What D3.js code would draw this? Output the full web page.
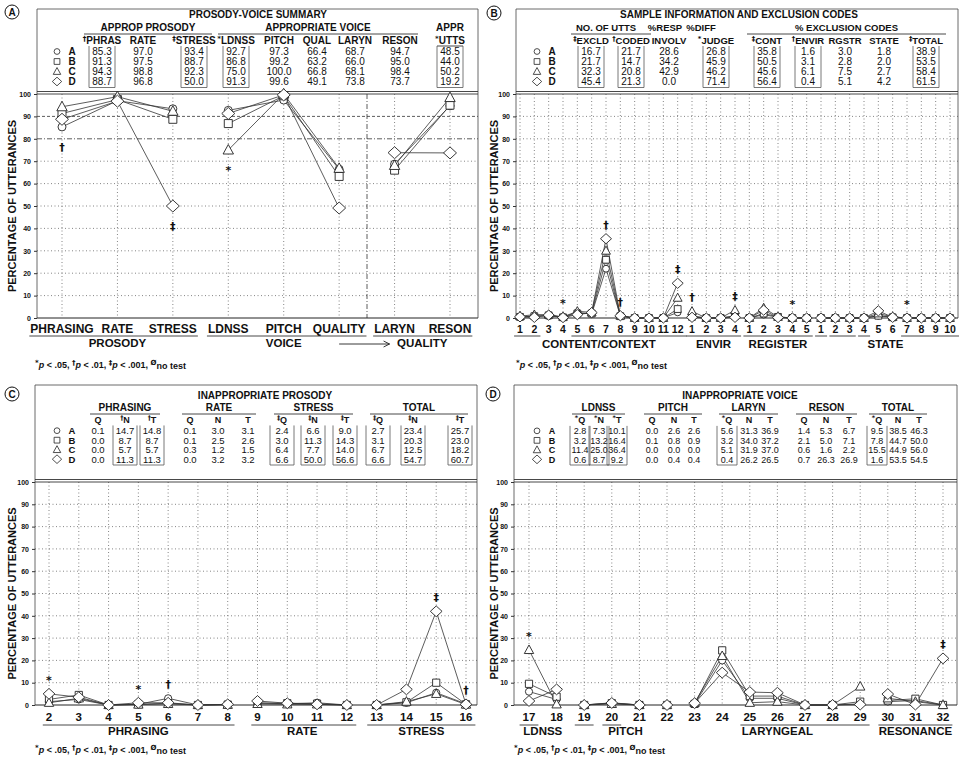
<!DOCTYPE html>
<html>
<head>
<meta charset="utf-8">
<title>Prosody-voice profiles</title>
<script src="https://d3js.org/d3.v7.min.js"></script>
<style>
  body { margin: 0; background: #fff; }
  text { font-family: "Liberation Sans", Arial, Helvetica, sans-serif; fill: #111; }
  .mark { font-family: "DejaVu Sans", "Liberation Sans", sans-serif; }
</style>
</head>
<body>
<svg id="chart"></svg>
<script>
// speaker groups, drawn as circle / square / triangle / diamond
var groups = ["A", "B", "C", "D"];

// ---------- Panel A: prosody-voice summary ----------
var summaryCats = ["PHRASING", "RATE", "STRESS", "LDNSS", "PITCH", "QUALITY", "LARYN", "RESON"];
var summaryRuns = [[0, 2], [3, 5], [6, 7]];
var summaryAxisGroups = [{name: "PROSODY", from: 0, to: 2}, {name: "VOICE", from: 3, to: 5}, {name: "QUALITY", from: 6, to: 7}];
var summaryUnderlines = [[0, 2], [3, 5], [6, 7]];
var summaryA = [85.3, 97.0, 93.4, 92.7, 97.3, 66.4, 68.7, 94.7];
var summaryB = [91.3, 97.5, 88.7, 86.8, 99.2, 63.2, 66.0, 95.0];
var summaryC = [94.3, 98.8, 92.3, 75.0, 100.0, 66.8, 68.1, 98.4];
var summaryD = [88.7, 96.8, 50.0, 91.3, 99.6, 49.1, 73.8, 73.7];
var summarySig = [{i: 0, mark: "†"}, {i: 2, mark: "‡"}, {i: 3, mark: "*"}];
var apprUtts = [48.5, 44.0, 50.2, 19.2];
var summaryHeads = ["PHRAS", "RATE", "STRESS", "LDNSS", "PITCH", "QUAL", "LARYN", "RESON", "UTTS"];
var summaryHeadMarks = ["†", "", "‡", "*", "", "", "", "", "*"];
var summaryBoxed = [0, 2, 3, 8];
var summaryHeadGroups = [{name: "APPROP PROSODY", from: 0, to: 2, line: true},
                         {name: "APPROPRIATE VOICE", from: 3, to: 7, line: true},
                         {name: "APPR", from: 8, to: 8}];

// ---------- Panel B: sample information and exclusion codes ----------
var codeCats = ["1", "2", "3", "4", "5", "6", "7", "8", "9", "10", "11", "12",
                "1", "2", "3", "4",
                "1", "2", "3", "4", "5",
                "1", "2", "3", "4", "5", "6", "7", "8", "9", "10"];
var codeRuns = [[0, 11], [12, 15], [16, 20], [21, 30]];
var codeAxisGroups = [{name: "CONTENT/CONTEXT", from: 0, to: 11}, {name: "ENVIR", from: 12, to: 15},
                      {name: "REGISTER", from: 16, to: 20}, {name: "STATE", from: 21, to: 30}];
var codeUnderlines = [[0, 1], [4, 11], [12, 15], [16, 20], [21, 21], [22, 23], [24, 24], [27, 30]];
var codeA = [0.3, 1.0, 0.8, 0.5, 2.5, 1.8, 22.0, 1.0, 0, 0, 0, 2.5,   1.0, 0, 0, 1.0,   0, 1.5, 0.3, 0, 0,   0, 0, 0, 0, 1.0, 0.5, 0, 0, 0, 0];
var codeB = [0.5, 0.8, 1.2, 0.3, 2.0, 2.0, 26.0, 0.8, 0, 0, 0, 4.0,   0.5, 0, 0, 0.8,   0, 2.0, 0.5, 0, 0,   0, 0, 0, 0, 1.0, 0.3, 0, 0, 0, 0];
var codeC = [0.8, 1.5, 1.5, 0.5, 3.0, 2.5, 30.0, 1.0, 0, 0, 0, 9.0,   3.0, 0, 0, 3.5,   0, 4.5, 0.5, 0, 0,   0, 0, 0, 0, 2.0, 0.5, 0, 0, 0, 0];
var codeD = [0.5, 0.3, 1.3, 0.2, 1.5, 2.4, 35.4, 1.0, 0, 0, 0, 15.5,  0.3, 0, 0, 0.3,   0, 3.5, 0.2, 0, 0,   0, 0, 0, 0, 3.2, 0.3, 0, 0, 0, 0];
var codeSig = [{i: 3, mark: "*"}, {i: 6, mark: "†"}, {i: 7, mark: "†"}, {i: 11, mark: "‡"},
               {i: 12, mark: "†"}, {i: 15, mark: "‡"}, {i: 19, mark: "*"}, {i: 27, mark: "*"}];
var sampleHeads = ["EXCLD", "CODED", "INVOLV", "JUDGE", "CONT", "ENVIR", "RGSTR", "STATE", "TOTAL"];
var sampleHeadMarks = ["‡", "†", "", "*", "‡", "†", "", "", "‡"];
var sampleRows = [[16.7, 21.7, 28.6, 26.8, 35.8, 1.6, 3.0, 1.8, 38.9],
                  [21.7, 14.7, 34.2, 45.9, 50.5, 3.1, 2.8, 2.0, 53.5],
                  [32.3, 20.8, 42.9, 46.2, 45.6, 6.1, 7.5, 2.7, 58.4],
                  [45.4, 21.3, 0.0, 71.4, 56.4, 0.4, 5.1, 4.2, 61.5]];
var sampleBoxed = [0, 1, 3, 4, 5, 8];
var sampleHeadGroups = [{name: "NO. OF UTTS", from: 0, to: 1, line: true}, {name: "%RESP", from: 2, to: 2},
                        {name: "%DIFF", from: 3, to: 3}, {name: "% EXCLUSION CODES", from: 4, to: 8, line: true}];

// ---------- Panel C: inappropriate prosody ----------
var prosodyCats = ["2", "3", "4", "5", "6", "7", "8", "9", "10", "11", "12", "13", "14", "15", "16"];
var prosodyRuns = [[0, 6], [7, 10], [11, 14]];
var prosodyAxisGroups = [{name: "PHRASING", from: 0, to: 6}, {name: "RATE", from: 7, to: 10}, {name: "STRESS", from: 11, to: 14}];
var prosodyUnderlines = [[0, 6], [7, 10], [11, 14]];
var prosodyA = [1.5, 2.5, 0, 0.3, 3.0, 0, 0.2, 1.0, 0.5, 1.0, 0, 0, 1.0, 5.5, 0.5];
var prosodyB = [2.5, 4.5, 0, 0.3, 0.8, 0, 0.2, 0.8, 0.8, 0.6, 0, 0, 1.2, 10.0, 0.3];
var prosodyC = [1.0, 3.0, 0, 0.2, 0.5, 0, 0.1, 0.5, 0.3, 0.3, 0, 0, 1.5, 5.0, 0.2];
var prosodyD = [5.0, 3.5, 0, 1.0, 1.0, 0, 0.3, 1.8, 0.8, 0.3, 0, 0, 7.0, 42.0, 0.3];
var prosodySig = [{i: 0, mark: "*"}, {i: 3, mark: "*"}, {i: 4, mark: "†"}, {i: 13, mark: "‡"}, {i: 14, mark: "†"}];
var qntHeads = ["Q", "N", "T"];
var prosodyHeadMarks = ["", "†", "†", "", "", "", "‡", "‡", "‡", "‡", "‡", "‡"];
var prosodyRows = [[0.1, 14.7, 14.8, 0.1, 3.0, 3.1, 2.4, 6.6, 9.0, 2.7, 23.4, 25.7],
                   [0.0, 8.7, 8.7, 0.1, 2.5, 2.6, 3.0, 11.3, 14.3, 3.1, 20.3, 23.0],
                   [0.0, 5.7, 5.7, 0.3, 1.2, 1.5, 6.4, 7.7, 14.0, 6.7, 12.5, 18.2],
                   [0.0, 11.3, 11.3, 0.0, 3.2, 3.2, 6.6, 50.0, 56.6, 6.6, 54.7, 60.7]];
var prosodyBoxed = [1, 2, 6, 7, 8, 9, 10, 11];
var prosodyHeadGroups = [{name: "PHRASING", from: 0, to: 2, line: true}, {name: "RATE", from: 3, to: 5, line: true},
                         {name: "STRESS", from: 6, to: 8, line: true}, {name: "TOTAL", from: 9, to: 11, line: true}];

// ---------- Panel D: inappropriate voice ----------
var voiceCats = ["17", "18", "19", "20", "21", "22", "23", "24", "25", "26", "27", "28", "29", "30", "31", "32"];
var voiceRuns = [[0, 1], [2, 4], [5, 5], [6, 12], [13, 15]];
var voiceAxisGroups = [{name: "LDNSS", from: 0, to: 1}, {name: "PITCH", from: 2, to: 5},
                       {name: "LARYNGEAL", from: 6, to: 12}, {name: "RESONANCE", from: 13, to: 15}];
var voiceUnderlines = [[0, 0], [2, 2], [3, 3], [8, 12], [13, 15]];
var voiceA = [6.0, 2.5, 0, 1.0, 0, 0, 0.5, 20.0, 3.0, 3.0, 0, 0, 0.5, 1.5, 2.0, 0];
var voiceB = [9.5, 3.7, 0, 0.8, 0, 0, 0.5, 24.5, 4.0, 4.0, 0, 0, 1.5, 2.0, 2.8, 0];
var voiceC = [24.7, 0.3, 0, 0.5, 0, 0, 1.0, 22.0, 1.0, 1.5, 0, 0, 8.3, 3.0, 1.5, 0];
var voiceD = [1.8, 7.0, 0, 0.9, 0, 0, 0.8, 14.5, 5.8, 5.5, 0, 0, 0.2, 4.9, 0.2, 20.9];
var voiceSig = [{i: 0, mark: "*"}, {i: 15, mark: "‡"}];
var voiceHeadMarks = ["*", "*", "*", "", "", "", "*", "", "", "", "", "", "*", "", ""];
var voiceRows = [[2.8, 7.3, 10.1, 0.0, 2.6, 2.6, 5.6, 31.3, 36.9, 1.4, 5.3, 6.7, 9.5, 38.5, 46.3],
                 [3.2, 13.2, 16.4, 0.1, 0.8, 0.9, 3.2, 34.0, 37.2, 2.1, 5.0, 7.1, 7.8, 44.7, 50.0],
                 [11.4, 25.0, 36.4, 0.0, 0.0, 0.0, 5.1, 31.9, 37.0, 0.6, 1.6, 2.2, 15.5, 44.9, 56.0],
                 [0.6, 8.7, 9.2, 0.0, 0.4, 0.4, 0.4, 26.2, 26.5, 0.7, 26.3, 26.9, 1.6, 53.5, 54.5]];
var voiceBoxed = [0, 1, 2, 6, 12];
var voiceHeadGroups = [{name: "LDNSS", from: 0, to: 2, line: true}, {name: "PITCH", from: 3, to: 5, line: true},
                       {name: "LARYN", from: 6, to: 8, line: true}, {name: "RESON", from: 9, to: 11, line: true},
                       {name: "TOTAL", from: 12, to: 14, line: true}];

// ---------- layout ----------
var W = 963, H = 759;
var svg = d3.select("#chart").attr("width", W).attr("height", H);
var fmt = d3.format(".1f");

var layA = {left: 37, right: 478, top: 9, y100: 94, y0: 318, xr: [62, 450], mk: 1, labelY: 333, labelSize: 12,
            groupY: 347, ulY: 336, ulPad: 1, sigBelow: true, titleX: 16, sepX: 367,
            strongRows: {80: "5,2,1,2", 90: "3,2"}, circle: [12, 12, "A"], foot: [35, 368]};
var layB = {left: 516, right: 958, top: 9, y100: 94, y0: 318, xr: [520, 950], mk: 0.85, labelY: 333, labelSize: 10.5,
            groupY: 348, ulY: 336, ulPad: 3, titleX: 498, circle: [494, 13, "B"], foot: [516, 368]};
var layC = {left: 35, right: 477, top: 385, y100: 482, y0: 705, xr: [49, 466], mk: 0.9, labelY: 721, labelSize: 11.5,
            groupY: 735, ulY: 725, ulPad: 3, titleX: 16, circle: [12, 394, "C"], foot: [35, 753]};
var layD = {left: 514, right: 957, top: 385, y100: 482, y0: 705, xr: [529, 943], mk: 0.9, labelY: 721, labelSize: 11.5,
            groupY: 735, ulY: 725, ulPad: 3, titleX: 498, circle: [493, 394, "D"], foot: [514, 753]};

var tabA = {title: "PROSODY-VOICE SUMMARY", titleX: 258, titleY: 18, groupY: 31, groupSize: 10, lineY: 34,
            headY: 44, headSize: 10, rowY0: 55, rowStep: 10, size: 10, mkX: 57, letterX: 72, boxHalf: 13, ulExt: 18,
            headUnderline: [8], cols: [102, 143, 194, 236, 279, 317, 355, 400, 450]};
var tabB = {title: "SAMPLE INFORMATION AND EXCLUSION CODES", titleX: 739, titleY: 18, groupY: 31, groupSize: 9.5,
            lineY: 34, headY: 44, headSize: 9.5, rowY0: 55, rowStep: 10, size: 10, mkX: 537, letterX: 552,
            boxHalf: 13, ulExt: 20, groupDx: [-5, -4, -15, 0], cols: [591, 631, 669, 716, 767, 808, 845, 884, 926]};
var tabC = {title: "INAPPROPRIATE PROSODY", titleX: 265, titleY: 399, groupY: 411, groupSize: 10, lineY: 414,
            headY: 423, headSize: 9, rowY0: 434, rowStep: 9.5, size: 9.5, mkX: 57, letterX: 72, boxHalf: 12,
            ulExt: 8, cols: [98, 125, 152, 190, 218, 248, 282, 313, 345, 378, 413, 460]};
var tabD = {title: "INAPPROPRIATE VOICE", titleX: 740, titleY: 399, groupY: 411, groupSize: 10, lineY: 414,
            headY: 423, headSize: 9, rowY0: 434, rowStep: 9.5, size: 9, mkX: 537, letterX: 552, boxHalf: 10,
            ulExt: 8, cols: [580, 599, 617, 652, 674, 694, 727, 749, 770, 804, 826, 849, 877, 898, 919]};

// marker shape for group s, scaled by k
function shape(s, k) {
  var p = d3.path();
  if (s === 0) { p.moveTo(4 * k, 0); p.arc(0, 0, 4 * k, 0, 2 * Math.PI); }
  else if (s === 1) { p.rect(-4 * k, -4 * k, 8 * k, 8 * k); }
  else if (s === 2) { p.moveTo(0, -5.5 * k); p.lineTo(5.2 * k, 4 * k); p.lineTo(-5.2 * k, 4 * k); p.closePath(); }
  else { p.moveTo(0, -6 * k); p.lineTo(6.5 * k, 0); p.lineTo(0, 6 * k); p.lineTo(-6.5 * k, 0); p.closePath(); }
  return p.toString();
}

// text with a small raised significance mark in front
function markedText(g, x, y, mark, label, size) {
  var t = g.append("text").attr("x", x).attr("y", y).attr("text-anchor", "middle")
    .style("font-size", size + "px").style("font-weight", "bold");
  if (mark) t.append("tspan").attr("class", "mark").text(mark).style("font-size", (size * 0.72) + "px").attr("dy", -3);
  t.append("tspan").text(label).attr("dy", mark ? 3 : 0);
  return t;
}

function drawPlot(p, series, cats, runs, sig, axisGroups, underlines) {
  var g = svg.append("g");
  var x = d3.scalePoint().domain(d3.range(cats.length)).range(p.xr);
  var y = d3.scaleLinear().domain([0, 100]).range([p.y0, p.y100]);
  var strong = p.strongRows || {};

  // grid
  g.selectAll(null).data(d3.range(10, 100, 10)).join("line")
    .attr("x1", p.left).attr("x2", p.right)
    .attr("y1", function(d) { return y(d); }).attr("y2", function(d) { return y(d); })
    .attr("stroke", function(d) { return strong[d] ? "#333" : "#666"; })
    .attr("stroke-width", 0.8)
    .attr("stroke-dasharray", function(d) { return strong[d] || "1,2.5"; });
  g.selectAll(null).data(d3.range(cats.length)).join("line")
    .attr("x1", function(d) { return x(d); }).attr("x2", function(d) { return x(d); })
    .attr("y1", p.y100).attr("y2", p.y0)
    .attr("stroke", "#666").attr("stroke-width", 0.8).attr("stroke-dasharray", "1,2.5");
  if (p.sepX) {
    g.append("line").attr("x1", p.sepX).attr("x2", p.sepX).attr("y1", p.y100).attr("y2", p.y0)
      .attr("stroke", "#333").attr("stroke-width", 0.8).attr("stroke-dasharray", "5,2,1,2");
  }

  // frame, double rule at 100, base line at 0
  g.append("path")
    .attr("d", "M" + p.left + "," + p.y0 + "V" + p.top + "H" + p.right + "V" + p.y0)
    .attr("fill", "none").attr("stroke", "#444").attr("stroke-width", 0.8);
  [p.y100 - 2.5, p.y100].forEach(function(yy) {
    g.append("line").attr("x1", p.left).attr("x2", p.right).attr("y1", yy).attr("y2", yy)
      .attr("stroke", "#333").attr("stroke-width", 0.9);
  });
  g.append("line").attr("x1", p.left).attr("x2", p.right).attr("y1", p.y0).attr("y2", p.y0)
    .attr("stroke", "#222").attr("stroke-width", 1);

  // y axis
  var ax = g.append("g").attr("transform", "translate(" + p.left + ",0)")
    .call(d3.axisLeft(y).tickValues(d3.range(0, 101, 10)).tickSize(3).tickPadding(3));
  ax.select(".domain").remove();
  ax.selectAll("line").attr("stroke", "#333");
  ax.selectAll("text").style("font-size", "7px").style("font-weight", "bold").attr("fill", "#111");
  g.append("text").attr("transform", "translate(" + p.titleX + "," + ((p.y0 + p.y100) / 2) + ") rotate(-90)")
    .attr("text-anchor", "middle").style("font-size", "11px").style("font-weight", "bold")
    .text("PERCENTAGE OF UTTERANCES");

  // series lines
  var line = d3.line().x(function(d) { return x(d.i); }).y(function(d) { return y(d.v); });
  series.forEach(function(vals) {
    runs.forEach(function(r) {
      var pts = d3.range(r[0], r[1] + 1).map(function(i) { return {i: i, v: vals[i]}; });
      if (pts.length > 1) {
        g.append("path").attr("d", line(pts)).attr("fill", "none")
          .attr("stroke", "#333").attr("stroke-width", 0.8);
      }
    });
  });

  // markers
  series.forEach(function(vals, s) {
    g.selectAll(null).data(vals).join("path")
      .attr("d", shape(s, p.mk))
      .attr("transform", function(d, i) { return "translate(" + x(i) + "," + y(d) + ")"; })
      .attr("fill", "#fff").attr("stroke", "#222").attr("stroke-width", 0.9);
  });

  // significance marks
  sig.forEach(function(m) {
    var vals = series.map(function(v) { return v[m.i]; });
    var yy = p.sigBelow ? y(d3.min(vals)) + 24 : y(d3.max(vals)) - 10;
    g.append("text").attr("class", "mark").attr("x", x(m.i)).attr("y", yy).attr("text-anchor", "middle")
      .style("font-size", "11px").style("font-weight", "bold").text(m.mark);
  });

  // category labels, underlines and group names
  var labels = g.selectAll(null).data(cats).join("text")
    .attr("x", function(d, i) { return x(i); }).attr("y", p.labelY).attr("text-anchor", "middle")
    .style("font-size", p.labelSize + "px").style("font-weight", "bold")
    .text(function(d) { return d; });
  var nodes = labels.nodes();
  underlines.forEach(function(u) {
    var b0 = nodes[u[0]].getBBox(), b1 = nodes[u[1]].getBBox();
    g.append("line").attr("x1", b0.x - p.ulPad).attr("x2", b1.x + b1.width + p.ulPad)
      .attr("y1", p.ulY).attr("y2", p.ulY).attr("stroke", "#333").attr("stroke-width", 0.9);
  });
  axisGroups.forEach(function(a) {
    g.append("text").attr("x", (x(a.from) + x(a.to)) / 2).attr("y", p.groupY).attr("text-anchor", "middle")
      .style("font-size", "11.5px").style("font-weight", "bold").text(a.name);
  });

  // circled panel letter
  var c = p.circle;
  svg.append("circle").attr("cx", c[0]).attr("cy", c[1]).attr("r", 7)
    .attr("fill", "#fff").attr("stroke", "#111").attr("stroke-width", 1);
  svg.append("text").attr("x", c[0]).attr("y", c[1] + 3.5).attr("text-anchor", "middle")
    .style("font-size", "10px").style("font-weight", "bold").text(c[2]);

  // footnote
  var f = svg.append("text").attr("x", p.foot[0]).attr("y", p.foot[1])
    .style("font-size", "9px").style("font-weight", "bold");
  var parts = [["*", -3], ["p", 0, true], [" < .05, ", 0], ["†", -3], ["p", 0, true], [" < .01, ", 0],
               ["‡", -3], ["p", 0, true], [" < .001, ", 0], ["Ø", -3], ["no test", 1]];
  var cur = 0;
  parts.forEach(function(pt) {
    var ts = f.append("tspan").text(pt[0]).attr("dy", pt[1] - cur);
    if (pt[1] < 0) ts.attr("class", "mark").style("font-size", "7px");
    if (pt[2]) ts.style("font-style", "italic");
    cur = pt[1];
  });

  return {x: x, y: y};
}

function drawTable(t, heads, marks, rows, boxed, headGroups) {
  var g = svg.append("g");
  g.append("text").attr("x", t.titleX).attr("y", t.titleY).attr("text-anchor", "middle")
    .style("font-size", "10px").style("font-weight", "bold").text(t.title);

  headGroups.forEach(function(h, k) {
    var x0 = t.cols[h.from], x1 = t.cols[h.to];
    var dx = t.groupDx ? t.groupDx[k] : 0;
    g.append("text").attr("x", (x0 + x1) / 2 + dx).attr("y", t.groupY).attr("text-anchor", "middle")
      .style("font-size", t.groupSize + "px").style("font-weight", "bold").text(h.name);
    if (h.line) {
      g.append("line").attr("x1", x0 - t.ulExt).attr("x2", x1 + t.ulExt)
        .attr("y1", t.lineY).attr("y2", t.lineY).attr("stroke", "#333").attr("stroke-width", 0.9);
    }
  });

  heads.forEach(function(h, i) { markedText(g, t.cols[i], t.headY, marks[i], h, t.headSize); });
  (t.headUnderline || []).forEach(function(i) {
    g.append("line").attr("x1", t.cols[i] - t.boxHalf).attr("x2", t.cols[i] + t.boxHalf)
      .attr("y1", t.headY + 2).attr("y2", t.headY + 2).attr("stroke", "#333").attr("stroke-width", 0.9);
  });

  var rowY = groups.map(function(d, s) { return t.rowY0 + s * t.rowStep; });
  groups.forEach(function(name, s) {
    g.append("path").attr("d", shape(s, 0.72))
      .attr("transform", "translate(" + t.mkX + "," + (rowY[s] - t.size * 0.35) + ")")
      .attr("fill", "#fff").attr("stroke", "#222").attr("stroke-width", 0.8);
    g.append("text").attr("x", t.letterX).attr("y", rowY[s]).attr("text-anchor", "middle")
      .style("font-size", t.size + "px").style("font-weight", "bold").text(name);
  });

  rows.forEach(function(r, s) {
    g.selectAll(null).data(r).join("text")
      .attr("x", function(d, i) { return t.cols[i]; }).attr("y", rowY[s]).attr("text-anchor", "middle")
      .style("font-size", t.size + "px").text(function(d) { return fmt(d); });
  });

  var top = rowY[0] - t.size * 0.9, bottom = rowY[3] + 2.5;
  boxed.forEach(function(i) {
    var x0 = t.cols[i] - t.boxHalf, x1 = t.cols[i] + t.boxHalf;
    g.append("path").attr("d", "M" + x0 + "," + top + "V" + bottom + "H" + x1 + "V" + top)
      .attr("fill", "none").attr("stroke", "#555").attr("stroke-width", 0.8);
  });
}

svg.append("rect").attr("width", W).attr("height", H).attr("fill", "#fff");

// panel A
var pa = drawPlot(layA, [summaryA, summaryB, summaryC, summaryD], summaryCats, summaryRuns,
                  summarySig, summaryAxisGroups, summaryUnderlines);
drawTable(tabA, summaryHeads, summaryHeadMarks,
          [summaryA, summaryB, summaryC, summaryD].map(function(r, s) { return r.concat([apprUtts[s]]); }),
          summaryBoxed, summaryHeadGroups);
// arrow from VOICE to QUALITY
svg.append("path")
  .attr("d", "M" + pa.x(5) + "," + (layA.groupY - 3) + "H" + (pa.x(6) - 5) +
             "M" + (pa.x(6) - 11) + "," + (layA.groupY - 6) + "L" + (pa.x(6) - 5) + "," + (layA.groupY - 3) +
             "L" + (pa.x(6) - 11) + "," + layA.groupY)
  .attr("fill", "none").attr("stroke", "#222").attr("stroke-width", 0.9);

// panel B
drawPlot(layB, [codeA, codeB, codeC, codeD], codeCats, codeRuns, codeSig, codeAxisGroups, codeUnderlines);
drawTable(tabB, sampleHeads, sampleHeadMarks, sampleRows, sampleBoxed, sampleHeadGroups);

// panel C
drawPlot(layC, [prosodyA, prosodyB, prosodyC, prosodyD], prosodyCats, prosodyRuns, prosodySig,
         prosodyAxisGroups, prosodyUnderlines);
drawTable(tabC, qntHeads.concat(qntHeads, qntHeads, qntHeads), prosodyHeadMarks, prosodyRows,
          prosodyBoxed, prosodyHeadGroups);

// panel D
drawPlot(layD, [voiceA, voiceB, voiceC, voiceD], voiceCats, voiceRuns, voiceSig, voiceAxisGroups, voiceUnderlines);
drawTable(tabD, qntHeads.concat(qntHeads, qntHeads, qntHeads, qntHeads), voiceHeadMarks, voiceRows,
          voiceBoxed, voiceHeadGroups);
</script>
</body>
</html>
